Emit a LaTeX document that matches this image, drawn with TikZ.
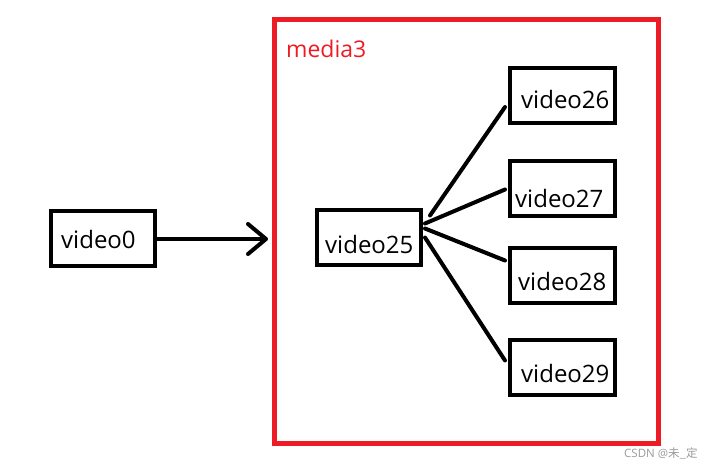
\documentclass[tikz,border=0pt]{standalone}
\usepackage{fontspec}
\setmainfont{Open Sans}
\newfontfamily\cjkfont{Noto Sans CJK SC}
\usetikzlibrary{arrows.meta,calc}
\definecolor{paintred}{HTML}{ED1C24}
\definecolor{markgray}{HTML}{9A9A9A}
\tikzset{
  vbox/.style={draw=black, line width=4pt, rectangle, inner sep=0pt, minimum width=104pt, minimum height=55pt},
  txt/.style={anchor=base west, inner sep=0pt, font=\fontsize{24}{27}\selectfont},
  link/.style={draw=black, line width=4pt, line cap=round},
}
\begin{document}
\begin{tikzpicture}[x=1pt,y=-1pt]
\useasboundingbox (0,0) rectangle (720,469);
% red group frame
\node[draw=paintred, line width=5pt, rectangle, inner sep=0pt, minimum width=384pt, minimum height=424pt] (media) at (466.5,231.5) {};
\node[anchor=base west, inner sep=0pt, text=paintred, font=\fontsize{23}{26}\selectfont] (mlab) at (286,57) {media3};
% boxes
\node[vbox] (v0) at (103,238) {};
\node[vbox] (v25) at (369,237.5) {};
\node[vbox, minimum width=105pt] (v26) at (562.5,95) {};
\node[vbox, minimum width=105pt] (v27) at (562.5,188.5) {};
\node[vbox, minimum width=105pt] (v28) at (562.5,275.5) {};
\node[vbox, minimum width=105pt] (v29) at (562.5,367.5) {};
% texts
\node[txt] (t0) at (61,248) {video0};
\node[txt] (t25) at (325,253) {video25};
\node[txt] (t26) at (521,108) {video26};
\node[txt] (t27) at (515,207) {video27};
\node[txt] (t28) at (518,290) {video28};
\node[txt] (t29) at (521,382) {video29};
% arrow into the group
\coordinate (tip) at ($(v0.east -| media.west)+(-4,1)$);
\draw[link, -{Straight Barb[length=18pt, width=30pt, line cap=round, line join=round]}] ($(v0.east)+(0,1)$) -- (tip);
% fan-out links
\draw[link] ($(v25.east)+(7,-22)$) -- ($(v26.west)+(-3,12)$);
\draw[link] ($(v25.east)+(2,-14)$) -- ($(v27.west)+(-3,1)$);
\draw[link] ($(v25.east)+(2,-9)$) -- ($(v28.west)+(-3,-15)$);
\draw[link] ($(v25.east)+(2,0)$) -- ($(v29.west)+(-3,-7)$);
% watermark
\node[anchor=base west, inner sep=0pt, text=markgray, font=\fontsize{11.5}{13}\selectfont] (wm) at (624,457) {CSDN @{\cjkfont 未\_定}};
\end{tikzpicture}
\end{document}
